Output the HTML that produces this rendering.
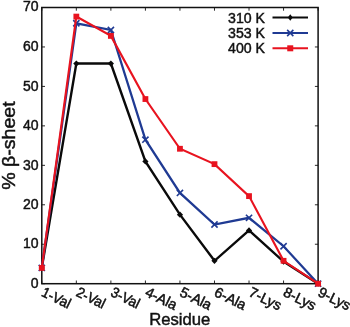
<!DOCTYPE html>
<html><head><meta charset="utf-8"><title>chart</title>
<style>
html,body{margin:0;padding:0;background:#fff;}
svg{display:block;font-family:"Liberation Sans",sans-serif;filter:blur(0.35px);}
</style></head>
<body>
<svg width="350" height="327" viewBox="0 0 350 327">
<rect x="0" y="0" width="350" height="327" fill="#fff"/>
<rect x="41.8" y="7.5" width="276.3" height="276.2" fill="none" stroke="#111" stroke-width="1.5"/>
<path d="M41.8,283.70 h3.2 M318.1,283.70 h-3.2" stroke="#111" stroke-width="0.9"/>
<text transform="translate(38.50,287.90) scale(0.98,1)" text-anchor="end" font-size="14.3" fill="#111" stroke="#111" stroke-width="0.45">0</text>
<path d="M41.8,244.24 h3.2 M318.1,244.24 h-3.2" stroke="#111" stroke-width="0.9"/>
<text transform="translate(38.50,248.44) scale(0.98,1)" text-anchor="end" font-size="14.3" fill="#111" stroke="#111" stroke-width="0.45">10</text>
<path d="M41.8,204.79 h3.2 M318.1,204.79 h-3.2" stroke="#111" stroke-width="0.9"/>
<text transform="translate(38.50,208.99) scale(0.98,1)" text-anchor="end" font-size="14.3" fill="#111" stroke="#111" stroke-width="0.45">20</text>
<path d="M41.8,165.33 h3.2 M318.1,165.33 h-3.2" stroke="#111" stroke-width="0.9"/>
<text transform="translate(38.50,169.53) scale(0.98,1)" text-anchor="end" font-size="14.3" fill="#111" stroke="#111" stroke-width="0.45">30</text>
<path d="M41.8,125.87 h3.2 M318.1,125.87 h-3.2" stroke="#111" stroke-width="0.9"/>
<text transform="translate(38.50,130.07) scale(0.98,1)" text-anchor="end" font-size="14.3" fill="#111" stroke="#111" stroke-width="0.45">40</text>
<path d="M41.8,86.41 h3.2 M318.1,86.41 h-3.2" stroke="#111" stroke-width="0.9"/>
<text transform="translate(38.50,90.61) scale(0.98,1)" text-anchor="end" font-size="14.3" fill="#111" stroke="#111" stroke-width="0.45">50</text>
<path d="M41.8,46.96 h3.2 M318.1,46.96 h-3.2" stroke="#111" stroke-width="0.9"/>
<text transform="translate(38.50,51.16) scale(0.98,1)" text-anchor="end" font-size="14.3" fill="#111" stroke="#111" stroke-width="0.45">60</text>
<path d="M41.8,7.50 h3.2 M318.1,7.50 h-3.2" stroke="#111" stroke-width="0.9"/>
<text transform="translate(38.50,11.00) scale(0.98,1)" text-anchor="end" font-size="14.3" fill="#111" stroke="#111" stroke-width="0.45">70</text>
<path d="M41.80,283.7 v-3.2 M41.80,7.5 v3.2" stroke="#111" stroke-width="0.9"/>
<text transform="translate(40.60,295.60) rotate(26) scale(0.935,1)" text-anchor="start" font-size="14.4" fill="#111" stroke="#111" stroke-width="0.5">1-Val</text>
<path d="M76.34,283.7 v-3.2 M76.34,7.5 v3.2" stroke="#111" stroke-width="0.9"/>
<text transform="translate(75.14,295.60) rotate(26) scale(0.935,1)" text-anchor="start" font-size="14.4" fill="#111" stroke="#111" stroke-width="0.5">2-Val</text>
<path d="M110.88,283.7 v-3.2 M110.88,7.5 v3.2" stroke="#111" stroke-width="0.9"/>
<text transform="translate(109.67,295.60) rotate(26) scale(0.935,1)" text-anchor="start" font-size="14.4" fill="#111" stroke="#111" stroke-width="0.5">3-Val</text>
<path d="M145.41,283.7 v-3.2 M145.41,7.5 v3.2" stroke="#111" stroke-width="0.9"/>
<text transform="translate(144.21,295.60) rotate(26) scale(0.99,1)" text-anchor="start" font-size="14.4" fill="#111" stroke="#111" stroke-width="0.5">4-Ala</text>
<path d="M179.95,283.7 v-3.2 M179.95,7.5 v3.2" stroke="#111" stroke-width="0.9"/>
<text transform="translate(178.75,295.60) rotate(26) scale(0.99,1)" text-anchor="start" font-size="14.4" fill="#111" stroke="#111" stroke-width="0.5">5-Ala</text>
<path d="M214.49,283.7 v-3.2 M214.49,7.5 v3.2" stroke="#111" stroke-width="0.9"/>
<text transform="translate(213.29,295.60) rotate(26) scale(0.99,1)" text-anchor="start" font-size="14.4" fill="#111" stroke="#111" stroke-width="0.5">6-Ala</text>
<path d="M249.03,283.7 v-3.2 M249.03,7.5 v3.2" stroke="#111" stroke-width="0.9"/>
<text transform="translate(247.83,295.60) rotate(26) scale(0.99,1)" text-anchor="start" font-size="14.4" fill="#111" stroke="#111" stroke-width="0.5">7-Lys</text>
<path d="M283.56,283.7 v-3.2 M283.56,7.5 v3.2" stroke="#111" stroke-width="0.9"/>
<text transform="translate(282.36,295.60) rotate(26) scale(0.99,1)" text-anchor="start" font-size="14.4" fill="#111" stroke="#111" stroke-width="0.5">8-Lys</text>
<path d="M318.10,283.7 v-3.2 M318.10,7.5 v3.2" stroke="#111" stroke-width="0.9"/>
<text transform="translate(316.90,295.60) rotate(26) scale(0.99,1)" text-anchor="start" font-size="14.4" fill="#111" stroke="#111" stroke-width="0.5">9-Lys</text>
<polyline points="41.80,267.92 76.34,63.53 110.88,63.53 145.41,161.38 179.95,214.65 214.49,260.81 249.03,230.43 283.56,261.60 318.10,283.70" fill="none" stroke="#0a0a0a" stroke-width="2.4" stroke-linejoin="miter"/>
<path d="M38.70,267.92 L41.80,264.82 L44.90,267.92 L41.80,271.02Z" fill="#0a0a0a"/>
<path d="M73.24,63.53 L76.34,60.43 L79.44,63.53 L76.34,66.63Z" fill="#0a0a0a"/>
<path d="M107.78,63.53 L110.88,60.43 L113.97,63.53 L110.88,66.63Z" fill="#0a0a0a"/>
<path d="M142.31,161.38 L145.41,158.28 L148.51,161.38 L145.41,164.48Z" fill="#0a0a0a"/>
<path d="M176.85,214.65 L179.95,211.55 L183.05,214.65 L179.95,217.75Z" fill="#0a0a0a"/>
<path d="M211.39,260.81 L214.49,257.71 L217.59,260.81 L214.49,263.91Z" fill="#0a0a0a"/>
<path d="M245.93,230.43 L249.03,227.33 L252.13,230.43 L249.03,233.53Z" fill="#0a0a0a"/>
<path d="M280.46,261.60 L283.56,258.50 L286.66,261.60 L283.56,264.70Z" fill="#0a0a0a"/>
<path d="M315.00,283.70 L318.10,280.60 L321.20,283.70 L318.10,286.80Z" fill="#0a0a0a"/>
<polyline points="41.80,267.92 76.34,23.28 110.88,29.99 145.41,139.68 179.95,192.95 214.49,224.51 249.03,217.81 283.56,246.22 318.10,283.70" fill="none" stroke="#1f3a93" stroke-width="2.25" stroke-linejoin="miter"/>
<path d="M38.70,264.82 L44.90,271.02 M38.70,271.02 L44.90,264.82" stroke="#1f3a93" stroke-width="1.6" fill="none"/>
<path d="M73.24,20.18 L79.44,26.38 M73.24,26.38 L79.44,20.18" stroke="#1f3a93" stroke-width="1.6" fill="none"/>
<path d="M107.78,26.89 L113.97,33.09 M107.78,33.09 L113.97,26.89" stroke="#1f3a93" stroke-width="1.6" fill="none"/>
<path d="M142.31,136.58 L148.51,142.78 M142.31,142.78 L148.51,136.58" stroke="#1f3a93" stroke-width="1.6" fill="none"/>
<path d="M176.85,189.85 L183.05,196.05 M176.85,196.05 L183.05,189.85" stroke="#1f3a93" stroke-width="1.6" fill="none"/>
<path d="M211.39,221.41 L217.59,227.61 M211.39,227.61 L217.59,221.41" stroke="#1f3a93" stroke-width="1.6" fill="none"/>
<path d="M245.93,214.71 L252.13,220.91 M245.93,220.91 L252.13,214.71" stroke="#1f3a93" stroke-width="1.6" fill="none"/>
<path d="M280.46,243.12 L286.66,249.32 M280.46,249.32 L286.66,243.12" stroke="#1f3a93" stroke-width="1.6" fill="none"/>
<path d="M315.00,280.60 L321.20,286.80 M315.00,286.80 L321.20,280.60" stroke="#1f3a93" stroke-width="1.6" fill="none"/>
<polyline points="41.80,267.92 76.34,16.58 110.88,35.91 145.41,99.04 179.95,148.76 214.49,164.14 249.03,196.11 283.56,260.81 318.10,283.70" fill="none" stroke="#e8131f" stroke-width="2.15" stroke-linejoin="miter"/>
<rect x="38.90" y="265.02" width="5.8" height="5.8" fill="#e8131f"/>
<rect x="73.44" y="13.68" width="5.8" height="5.8" fill="#e8131f"/>
<rect x="107.97" y="33.01" width="5.8" height="5.8" fill="#e8131f"/>
<rect x="142.51" y="96.14" width="5.8" height="5.8" fill="#e8131f"/>
<rect x="177.05" y="145.86" width="5.8" height="5.8" fill="#e8131f"/>
<rect x="211.59" y="161.24" width="5.8" height="5.8" fill="#e8131f"/>
<rect x="246.13" y="193.21" width="5.8" height="5.8" fill="#e8131f"/>
<rect x="280.66" y="257.91" width="5.8" height="5.8" fill="#e8131f"/>
<rect x="315.20" y="280.80" width="5.8" height="5.8" fill="#e8131f"/>
<text transform="translate(265.00,22.50) scale(0.99,1)" text-anchor="end" font-size="14.3" fill="#111" stroke="#111" stroke-width="0.45">310 K</text>
<path d="M272.5,17.5 H308.0" stroke="#0a0a0a" stroke-width="1.9"/>
<path d="M287.85,17.5 L290.25,14.2 L292.65,17.5 L290.25,20.8Z" fill="#0a0a0a"/>
<text transform="translate(265.00,38.00) scale(0.99,1)" text-anchor="end" font-size="14.3" fill="#111" stroke="#111" stroke-width="0.45">353 K</text>
<path d="M272.5,33.0 H308.0" stroke="#1f3a93" stroke-width="1.9"/>
<path d="M287.15,29.9 L293.35,36.1 M287.15,36.1 L293.35,29.9" stroke="#1f3a93" stroke-width="1.6"/>
<text transform="translate(265.00,53.30) scale(0.99,1)" text-anchor="end" font-size="14.3" fill="#111" stroke="#111" stroke-width="0.45">400 K</text>
<path d="M272.5,48.3 H308.0" stroke="#e8131f" stroke-width="1.9"/>
<rect x="287.25" y="45.3" width="6.0" height="6.0" fill="#e8131f"/>
<text transform="translate(179.70,324.50) scale(0.98,1)" text-anchor="middle" font-size="17.0" fill="#111" stroke="#111" stroke-width="0.45">Residue</text>
<text transform="translate(15.00,145.60) rotate(-90) scale(1.1,1)" text-anchor="middle" font-size="17.8" fill="#111" stroke="#111" stroke-width="0.45">% β-sheet</text>
</svg>
</body></html>
